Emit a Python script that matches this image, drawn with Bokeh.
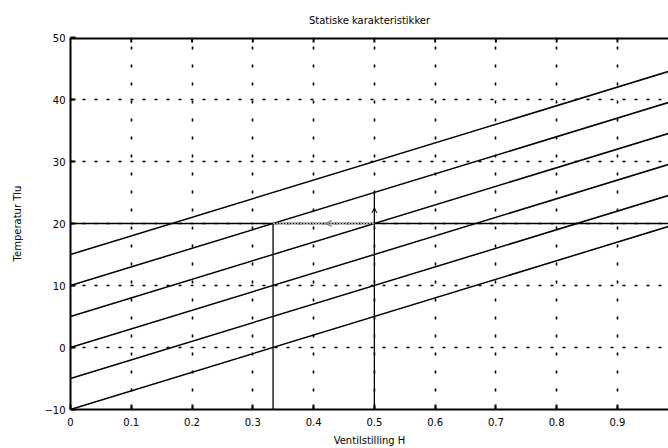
from bokeh.plotting import figure
from bokeh.models import Range1d, FixedTicker, Arrow, OpenHead
from bokeh.embed import file_html
from bokeh.resources import INLINE

# ---- data ----
H_ends = [0.0, 1.0]                       # valve position at both ends of each line
T_at_H0 = [-10, -5, 0, 5, 10, 15]         # temperature Tlu at H = 0
T_at_H1 = [20, 25, 30, 35, 40, 45]        # temperature Tlu at H = 1
T_set = 20                                # horizontal reference line
H_ops = [1 / 3, 0.5]                      # operating points (vertical lines)
T_arrow_top = 25                          # top of the arrow at H = 0.5
H_arrow_mid = 0.42                        # position of the "<" arrow head
x_ticks = [0, 0.1, 0.2, 0.3, 0.4, 0.5, 0.6, 0.7, 0.8, 0.9]
y_ticks = [-10, 0, 10, 20, 30, 40, 50]
x_label_text = {0: "0", 0.1: "0.1", 0.2: "0.2", 0.3: "0.3", 0.4: "0.4",
                0.5: "0.5", 0.6: "0.6", 0.7: "0.7", 0.8: "0.8", 0.9: "0.9"}

FONT = "DejaVu Sans"
Y_MIN, Y_MAX = y_ticks[0], y_ticks[-1]

p = figure(width=668, height=448, x_range=Range1d(0, 0.984), y_range=Range1d(Y_MIN, Y_MAX),
           output_backend="svg", toolbar_location=None,
           min_border_left=70, min_border_right=0, min_border_top=37, min_border_bottom=38,
           x_axis_label="Ventilstilling H", y_axis_label="Temperatur Tlu")
p.outline_line_color = None
p.background_fill_color = "white"
p.border_fill_color = "white"

# title
p.title.text = "Statiske karakteristikker"
p.title.align = "center"
p.title.text_font = FONT
p.title.text_font_style = "normal"
p.title.text_font_size = "10px"
p.title.text_color = "black"
p.title.standoff = 23

# axes
for ax in (p.xaxis[0], p.yaxis[0]):
    ax.axis_line_width = 2
    ax.axis_line_color = "black"
    ax.major_tick_in = 5
    ax.major_tick_out = 0
    ax.major_tick_line_width = 2
    ax.minor_tick_line_color = None
    ax.major_label_text_font = FONT
    ax.major_label_text_font_size = "10px"
    ax.major_label_text_color = "black"
    ax.axis_label_text_font = FONT
    ax.axis_label_text_font_size = "10px"
    ax.axis_label_text_font_style = "normal"
    ax.axis_label_text_color = "black"
p.xaxis[0].ticker = FixedTicker(ticks=x_ticks)
p.xaxis[0].major_label_overrides = x_label_text
p.xaxis[0].major_label_standoff = 8
p.xaxis[0].axis_label_standoff = 6
p.yaxis[0].ticker = FixedTicker(ticks=y_ticks)
p.yaxis[0].axis_label_standoff = 18

# top border line (half clipped by the frame) and inward ticks
p.line(H_ends, [Y_MAX, Y_MAX], line_color="black", line_width=4)
p.segment(x0=x_ticks[1:], y0=[Y_MAX] * (len(x_ticks) - 1), x1=x_ticks[1:],
          y1=[Y_MAX - 0.8] * (len(x_ticks) - 1), line_color="black", line_width=2)

# grid
p.xgrid.ticker = FixedTicker(ticks=x_ticks)
p.ygrid.ticker = FixedTicker(ticks=y_ticks)
p.xgrid.grid_line_color = "black"
p.xgrid.grid_line_width = 1.6
p.xgrid.grid_line_dash = "3 15"
p.ygrid.grid_line_color = "black"
p.ygrid.grid_line_width = 1.6
p.ygrid.grid_line_dash = "3 9"

# characteristic lines
xs = [H_ends for _ in T_at_H0]
ys = [[a, b] for a, b in zip(T_at_H0, T_at_H1)]
p.multi_line(xs, ys, line_color="black", line_width=1.5)

# horizontal setpoint line
p.line(H_ends, [T_set, T_set], line_color="black", line_width=1.5)

# vertical operating lines
p.segment(x0=[H_ops[0]], y0=[Y_MIN], x1=[H_ops[0]], y1=[T_set], line_color="black", line_width=1.3)
p.segment(x0=[H_ops[1]], y0=[Y_MIN], x1=[H_ops[1]], y1=[T_arrow_top], line_color="black", line_width=1.3)

# gray dotted line between operating points with arrow
p.segment(x0=[H_ops[0]], y0=[T_set], x1=[H_ops[1]], y1=[T_set], line_color="#aaaaaa",
          line_width=1.5, line_dash="2 1")
p.add_layout(Arrow(end=OpenHead(size=6, line_color="#777777", line_width=1.2),
                   x_start=H_ops[1], y_start=T_set, x_end=H_arrow_mid, y_end=T_set,
                   line_alpha=0))
p.add_layout(Arrow(end=OpenHead(size=5, line_color="black", line_width=1),
                   x_start=H_ops[1], y_start=T_set, x_end=H_ops[1], y_end=T_set + 2.5,
                   line_alpha=0))

open("out.html", "w").write(file_html(p, INLINE))
